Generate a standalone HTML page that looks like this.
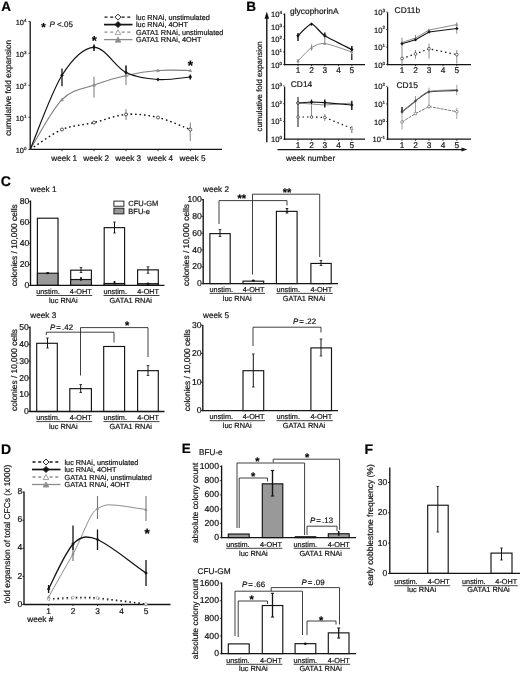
<!DOCTYPE html>
<html lang="en"><head><meta charset="utf-8"><title>Figure</title>
<style>html,body{margin:0;padding:0;background:#fff;}body{width:520px;height:673px;overflow:hidden;font-family:"Liberation Sans",Arial,sans-serif;}svg{display:block;text-rendering:geometricPrecision;filter:blur(0.3px);}text{stroke:#141414;stroke-width:0.2px;}</style>
</head><body>
<svg width="520" height="673" viewBox="0 0 520 673" font-family="'Liberation Sans', Arial, Helvetica, sans-serif">
<rect x="0" y="0" width="520" height="673" fill="#fff"/>
<text x="1.30" y="10.70" font-size="13.5" text-anchor="start" font-weight="bold" font-style="normal" fill="#000" >A</text>
<line x1="30.20" y1="21.50" x2="30.20" y2="150.00" stroke="#141414" stroke-width="1.3" />
<line x1="29.60" y1="149.40" x2="222.00" y2="149.40" stroke="#141414" stroke-width="1.3" />
<line x1="28.40" y1="149.40" x2="30.20" y2="149.40" stroke="#141414" stroke-width="0.8" />
<text x="26.40" y="152.70" font-size="7.4" text-anchor="end" fill="#141414">10<tspan font-size="4.44" dy="-2.96">0</tspan></text>
<line x1="28.40" y1="117.30" x2="30.20" y2="117.30" stroke="#141414" stroke-width="0.8" />
<text x="26.40" y="120.60" font-size="7.4" text-anchor="end" fill="#141414">10<tspan font-size="4.44" dy="-2.96">1</tspan></text>
<line x1="28.40" y1="85.20" x2="30.20" y2="85.20" stroke="#141414" stroke-width="0.8" />
<text x="26.40" y="88.50" font-size="7.4" text-anchor="end" fill="#141414">10<tspan font-size="4.44" dy="-2.96">2</tspan></text>
<line x1="28.40" y1="53.20" x2="30.20" y2="53.20" stroke="#141414" stroke-width="0.8" />
<text x="26.40" y="56.50" font-size="7.4" text-anchor="end" fill="#141414">10<tspan font-size="4.44" dy="-2.96">3</tspan></text>
<line x1="28.40" y1="21.60" x2="30.20" y2="21.60" stroke="#141414" stroke-width="0.8" />
<text x="26.40" y="24.90" font-size="7.4" text-anchor="end" fill="#141414">10<tspan font-size="4.44" dy="-2.96">4</tspan></text>
<line x1="62.00" y1="149.40" x2="62.00" y2="151.20" stroke="#141414" stroke-width="0.8" />
<text x="64.20" y="161.00" font-size="8.2" text-anchor="middle" font-weight="normal" font-style="normal" fill="#141414" >week 1</text>
<line x1="94.00" y1="149.40" x2="94.00" y2="151.20" stroke="#141414" stroke-width="0.8" />
<text x="96.20" y="161.00" font-size="8.2" text-anchor="middle" font-weight="normal" font-style="normal" fill="#141414" >week 2</text>
<line x1="126.00" y1="149.40" x2="126.00" y2="151.20" stroke="#141414" stroke-width="0.8" />
<text x="128.20" y="161.00" font-size="8.2" text-anchor="middle" font-weight="normal" font-style="normal" fill="#141414" >week 3</text>
<line x1="158.00" y1="149.40" x2="158.00" y2="151.20" stroke="#141414" stroke-width="0.8" />
<text x="160.20" y="161.00" font-size="8.2" text-anchor="middle" font-weight="normal" font-style="normal" fill="#141414" >week 4</text>
<line x1="190.30" y1="149.40" x2="190.30" y2="151.20" stroke="#141414" stroke-width="0.8" />
<text x="192.50" y="161.00" font-size="8.2" text-anchor="middle" font-weight="normal" font-style="normal" fill="#141414" >week 5</text>
<text x="11.00" y="87.80" font-size="8.35" text-anchor="middle" font-weight="normal" font-style="normal" fill="#141414" transform="rotate(-90 11.00 87.80)" >cumulative fold expansion</text>
<text x="41.13" y="30.56" font-size="11.5" font-weight="bold" fill="#000">*</text>
<text x="49.5" y="27" font-size="8" fill="#141414"><tspan font-style="italic">P</tspan> &lt;.05</text>
<line x1="104.50" y1="17.10" x2="132.50" y2="17.10" stroke="#141414" stroke-width="1.3" stroke-dasharray="3 2.7"/>
<polygon points="115.00,17.10 118.00,14.10 121.00,17.10 118.00,20.10" fill="#fff" stroke="#141414" stroke-width="0.9"/>
<text x="136.00" y="19.70" font-size="7.3" text-anchor="start" font-weight="normal" font-style="normal" fill="#141414" >luc RNAi, unstimulated</text>
<line x1="104.00" y1="24.60" x2="132.50" y2="24.60" stroke="#141414" stroke-width="1.7" />
<polygon points="115.00,24.60 118.00,21.60 121.00,24.60 118.00,27.60" fill="#141414" stroke="#141414" stroke-width="0.9"/>
<text x="136.00" y="27.20" font-size="7.3" text-anchor="start" font-weight="normal" font-style="normal" fill="#141414" >luc RNAi, 4OHT</text>
<line x1="104.50" y1="32.10" x2="132.50" y2="32.10" stroke="#8c8c8c" stroke-width="1.3" stroke-dasharray="3 2.7"/>
<polygon points="115.20,34.64 118.00,29.60 120.80,34.64" fill="#fff" stroke="#8c8c8c" stroke-width="0.8"/>
<text x="136.00" y="34.70" font-size="7.3" text-anchor="start" font-weight="normal" font-style="normal" fill="#141414" >GATA1 RNAi, unstimulated</text>
<line x1="104.00" y1="39.60" x2="132.50" y2="39.60" stroke="#8c8c8c" stroke-width="1.3" />
<polygon points="115.20,42.14 118.00,37.10 120.80,42.14" fill="#8c8c8c" stroke="#8c8c8c" stroke-width="0.8"/>
<text x="136.00" y="42.20" font-size="7.3" text-anchor="start" font-weight="normal" font-style="normal" fill="#141414" >GATA1 RNAi, 4OHT</text>
<path d="M30.20,149.40 C35.50,146.13 51.37,134.23 62.00,129.80 C72.63,125.37 83.33,125.40 94.00,122.80 C104.67,120.20 115.33,115.08 126.00,114.20 C136.67,113.32 147.28,114.87 158.00,117.50 C168.72,120.13 184.92,127.92 190.30,130.00" fill="none" stroke="#8c8c8c" stroke-width="1.2" stroke-dasharray="1.5 3"/>
<path d="M30.20,149.40 C35.50,146.08 51.37,133.98 62.00,129.50 C72.63,125.02 83.33,125.00 94.00,122.50 C104.67,120.00 115.33,115.33 126.00,114.50 C136.67,113.67 147.28,115.00 158.00,117.50 C168.72,120.00 184.92,127.50 190.30,129.50" fill="none" stroke="#141414" stroke-width="1.3" stroke-dasharray="1.5 3"/>
<line x1="126.00" y1="109.00" x2="126.00" y2="120.00" stroke="#8c8c8c" stroke-width="1.1" />
<line x1="190.30" y1="122.50" x2="190.30" y2="141.00" stroke="#8c8c8c" stroke-width="1.1" />
<circle cx="62.00" cy="129.50" r="1.5" fill="#fff" stroke="#141414" stroke-width="0.7"/>
<circle cx="94.00" cy="122.50" r="1.5" fill="#fff" stroke="#141414" stroke-width="0.7"/>
<circle cx="126.00" cy="114.50" r="1.5" fill="#fff" stroke="#141414" stroke-width="0.7"/>
<circle cx="158.00" cy="117.50" r="1.5" fill="#fff" stroke="#141414" stroke-width="0.7"/>
<circle cx="190.30" cy="129.50" r="1.5" fill="#fff" stroke="#141414" stroke-width="0.7"/>
<path d="M30.20,149.40 C35.50,141.10 51.37,110.33 62.00,99.60 C72.63,88.87 83.33,89.02 94.00,85.00 C104.67,80.98 115.33,77.92 126.00,75.50 C136.67,73.08 147.28,71.33 158.00,70.50 C168.72,69.67 184.92,70.50 190.30,70.50" fill="none" stroke="#7d7d7d" stroke-width="1.1" />
<line x1="94.00" y1="76.70" x2="94.00" y2="97.50" stroke="#8c8c8c" stroke-width="1.2" />
<line x1="126.00" y1="65.50" x2="126.00" y2="85.00" stroke="#8c8c8c" stroke-width="1.2" />
<polygon points="60.50,100.80 62.00,98.10 63.50,100.80" fill="#8c8c8c" stroke="#8c8c8c" stroke-width="0.5"/>
<polygon points="92.50,86.20 94.00,83.50 95.50,86.20" fill="#8c8c8c" stroke="#8c8c8c" stroke-width="0.5"/>
<polygon points="124.50,76.70 126.00,74.00 127.50,76.70" fill="#8c8c8c" stroke="#8c8c8c" stroke-width="0.5"/>
<polygon points="156.50,71.70 158.00,69.00 159.50,71.70" fill="#8c8c8c" stroke="#8c8c8c" stroke-width="0.5"/>
<polygon points="188.80,71.70 190.30,69.00 191.80,71.70" fill="#8c8c8c" stroke="#8c8c8c" stroke-width="0.5"/>
<path d="M30.20,149.40 C35.50,137.05 51.37,92.32 62.00,75.30 C72.63,58.28 83.33,47.77 94.00,47.30 C104.67,46.83 115.33,67.13 126.00,72.50 C136.67,77.87 147.28,78.75 158.00,79.50 C168.72,80.25 184.92,77.42 190.30,77.00" fill="none" stroke="#141414" stroke-width="1.2" />
<line x1="62.00" y1="68.40" x2="62.00" y2="86.20" stroke="#141414" stroke-width="1.3" />
<line x1="94.00" y1="44.50" x2="94.00" y2="51.00" stroke="#141414" stroke-width="1.5" />
<line x1="126.00" y1="65.50" x2="126.00" y2="74.00" stroke="#141414" stroke-width="1.3" />
<line x1="190.30" y1="74.50" x2="190.30" y2="79.50" stroke="#141414" stroke-width="1.5" />
<polygon points="60.30,75.30 62.00,73.60 63.70,75.30 62.00,77.00" fill="#141414" stroke="#141414" stroke-width="0.3"/>
<polygon points="92.30,47.30 94.00,45.60 95.70,47.30 94.00,49.00" fill="#141414" stroke="#141414" stroke-width="0.3"/>
<polygon points="124.30,72.50 126.00,70.80 127.70,72.50 126.00,74.20" fill="#141414" stroke="#141414" stroke-width="0.3"/>
<polygon points="156.30,79.50 158.00,77.80 159.70,79.50 158.00,81.20" fill="#141414" stroke="#141414" stroke-width="0.3"/>
<polygon points="188.60,77.00 190.30,75.30 192.00,77.00 190.30,78.70" fill="#141414" stroke="#141414" stroke-width="0.3"/>
<text x="91.66" y="45.03" font-size="13" font-weight="bold" fill="#000">*</text>
<text x="187.87" y="69.59" font-size="13.5" font-weight="bold" fill="#000">*</text>
<text x="246.20" y="10.80" font-size="13.5" text-anchor="start" font-weight="bold" font-style="normal" fill="#000" >B</text>
<text x="261.80" y="86.40" font-size="7.85" text-anchor="middle" font-weight="normal" font-style="normal" fill="#141414" transform="rotate(-90 261.80 86.40)" >cumulative fold expansion</text>
<line x1="266.80" y1="17.00" x2="266.80" y2="142.30" stroke="#141414" stroke-width="1.4" />
<polygon points="266.8,11.6 264.5,18.8 269.1,18.8" fill="#141414"/>
<line x1="277.50" y1="149.60" x2="463.00" y2="149.60" stroke="#141414" stroke-width="1.4" />
<polygon points="467.3,149.6 461.5,147.6 461.5,151.6" fill="#141414"/>
<text x="286.00" y="160.50" font-size="8.2" text-anchor="start" font-weight="normal" font-style="normal" fill="#141414" >week number</text>
<line x1="284.60" y1="13.60" x2="284.60" y2="65.20" stroke="#141414" stroke-width="1.3" />
<line x1="284.00" y1="64.60" x2="365.00" y2="64.60" stroke="#141414" stroke-width="1.3" />
<line x1="283.10" y1="64.60" x2="284.60" y2="64.60" stroke="#141414" stroke-width="0.7" />
<text x="282.00" y="67.60" font-size="7.6" text-anchor="end" fill="#141414">10<tspan font-size="4.56" dy="-3.04">0</tspan></text>
<line x1="283.10" y1="52.00" x2="284.60" y2="52.00" stroke="#141414" stroke-width="0.7" />
<text x="282.00" y="55.00" font-size="7.6" text-anchor="end" fill="#141414">10<tspan font-size="4.56" dy="-3.04">1</tspan></text>
<line x1="283.10" y1="39.40" x2="284.60" y2="39.40" stroke="#141414" stroke-width="0.7" />
<text x="282.00" y="42.40" font-size="7.6" text-anchor="end" fill="#141414">10<tspan font-size="4.56" dy="-3.04">2</tspan></text>
<line x1="283.10" y1="26.80" x2="284.60" y2="26.80" stroke="#141414" stroke-width="0.7" />
<text x="282.00" y="29.80" font-size="7.6" text-anchor="end" fill="#141414">10<tspan font-size="4.56" dy="-3.04">3</tspan></text>
<line x1="283.10" y1="14.20" x2="284.60" y2="14.20" stroke="#141414" stroke-width="0.7" />
<text x="282.00" y="17.20" font-size="7.6" text-anchor="end" fill="#141414">10<tspan font-size="4.56" dy="-3.04">4</tspan></text>
<line x1="298.00" y1="64.60" x2="298.00" y2="66.20" stroke="#141414" stroke-width="0.8" />
<text x="298.00" y="73.10" font-size="8.3" text-anchor="middle" font-weight="normal" font-style="normal" fill="#141414" >1</text>
<line x1="311.50" y1="64.60" x2="311.50" y2="66.20" stroke="#141414" stroke-width="0.8" />
<text x="311.50" y="73.10" font-size="8.3" text-anchor="middle" font-weight="normal" font-style="normal" fill="#141414" >2</text>
<line x1="324.80" y1="64.60" x2="324.80" y2="66.20" stroke="#141414" stroke-width="0.8" />
<text x="324.80" y="73.10" font-size="8.3" text-anchor="middle" font-weight="normal" font-style="normal" fill="#141414" >3</text>
<line x1="338.50" y1="64.60" x2="338.50" y2="66.20" stroke="#141414" stroke-width="0.8" />
<text x="338.50" y="73.10" font-size="8.3" text-anchor="middle" font-weight="normal" font-style="normal" fill="#141414" >4</text>
<line x1="351.80" y1="64.60" x2="351.80" y2="66.20" stroke="#141414" stroke-width="0.8" />
<text x="351.80" y="73.10" font-size="8.3" text-anchor="middle" font-weight="normal" font-style="normal" fill="#141414" >5</text>
<text x="290.10" y="13.80" font-size="8.4" text-anchor="start" font-weight="normal" font-style="normal" fill="#141414" >glycophorinA</text>
<path d="M298.00,61.00 C299.80,59.23 307.93,50.03 311.50,47.70 C315.07,45.37 319.43,42.93 324.80,43.50 C330.17,44.07 348.20,50.87 351.80,52.00" fill="none" stroke="#8c8c8c" stroke-width="1.0" />
<line x1="298.00" y1="59.00" x2="298.00" y2="63.50" stroke="#8c8c8c" stroke-width="1.1" />
<line x1="311.50" y1="44.40" x2="311.50" y2="50.50" stroke="#8c8c8c" stroke-width="1.1" />
<line x1="324.80" y1="36.70" x2="324.80" y2="44.40" stroke="#8c8c8c" stroke-width="1.1" />
<line x1="351.80" y1="46.00" x2="351.80" y2="60.00" stroke="#8c8c8c" stroke-width="1.1" />
<polygon points="296.70,62.04 298.00,59.70 299.30,62.04" fill="#8c8c8c" stroke="#8c8c8c" stroke-width="0.4"/>
<polygon points="310.20,48.74 311.50,46.40 312.80,48.74" fill="#8c8c8c" stroke="#8c8c8c" stroke-width="0.4"/>
<polygon points="323.50,44.54 324.80,42.20 326.10,44.54" fill="#8c8c8c" stroke="#8c8c8c" stroke-width="0.4"/>
<polygon points="350.50,53.04 351.80,50.70 353.10,53.04" fill="#8c8c8c" stroke="#8c8c8c" stroke-width="0.4"/>
<path d="M298.00,35.80 C299.57,34.45 308.37,24.20 311.50,24.20 C314.63,24.20 320.10,32.84 324.80,35.80 C329.50,38.76 348.65,47.99 351.80,49.60" fill="none" stroke="#141414" stroke-width="1.2" />
<line x1="298.00" y1="33.00" x2="298.00" y2="41.00" stroke="#141414" stroke-width="1.4" />
<line x1="324.80" y1="32.50" x2="324.80" y2="37.00" stroke="#141414" stroke-width="1.4" />
<line x1="351.80" y1="46.00" x2="351.80" y2="51.00" stroke="#141414" stroke-width="1.4" />
<line x1="351.80" y1="54.00" x2="351.80" y2="60.00" stroke="#141414" stroke-width="1.0" />
<polygon points="296.40,35.80 298.00,34.20 299.60,35.80 298.00,37.40" fill="#141414" stroke="#141414" stroke-width="0.3"/>
<polygon points="309.90,24.20 311.50,22.60 313.10,24.20 311.50,25.80" fill="#141414" stroke="#141414" stroke-width="0.3"/>
<polygon points="323.20,35.80 324.80,34.20 326.40,35.80 324.80,37.40" fill="#141414" stroke="#141414" stroke-width="0.3"/>
<polygon points="350.20,49.60 351.80,48.00 353.40,49.60 351.80,51.20" fill="#141414" stroke="#141414" stroke-width="0.3"/>
<line x1="284.60" y1="86.70" x2="284.60" y2="139.80" stroke="#141414" stroke-width="1.3" />
<line x1="284.00" y1="139.20" x2="365.00" y2="139.20" stroke="#141414" stroke-width="1.3" />
<line x1="283.10" y1="139.20" x2="284.60" y2="139.20" stroke="#141414" stroke-width="0.7" />
<text x="282.00" y="142.20" font-size="7.6" text-anchor="end" fill="#141414">10<tspan font-size="4.56" dy="-3.04">0</tspan></text>
<line x1="283.10" y1="121.43" x2="284.60" y2="121.43" stroke="#141414" stroke-width="0.7" />
<text x="282.00" y="124.43" font-size="7.6" text-anchor="end" fill="#141414">10<tspan font-size="4.56" dy="-3.04">1</tspan></text>
<line x1="283.10" y1="103.67" x2="284.60" y2="103.67" stroke="#141414" stroke-width="0.7" />
<text x="282.00" y="106.67" font-size="7.6" text-anchor="end" fill="#141414">10<tspan font-size="4.56" dy="-3.04">2</tspan></text>
<line x1="283.10" y1="85.90" x2="284.60" y2="85.90" stroke="#141414" stroke-width="0.7" />
<text x="282.00" y="88.90" font-size="7.6" text-anchor="end" fill="#141414">10<tspan font-size="4.56" dy="-3.04">3</tspan></text>
<line x1="298.00" y1="139.20" x2="298.00" y2="140.80" stroke="#141414" stroke-width="0.8" />
<text x="298.00" y="147.70" font-size="8.3" text-anchor="middle" font-weight="normal" font-style="normal" fill="#141414" >1</text>
<line x1="311.50" y1="139.20" x2="311.50" y2="140.80" stroke="#141414" stroke-width="0.8" />
<text x="311.50" y="147.70" font-size="8.3" text-anchor="middle" font-weight="normal" font-style="normal" fill="#141414" >2</text>
<line x1="324.80" y1="139.20" x2="324.80" y2="140.80" stroke="#141414" stroke-width="0.8" />
<text x="324.80" y="147.70" font-size="8.3" text-anchor="middle" font-weight="normal" font-style="normal" fill="#141414" >3</text>
<line x1="338.50" y1="139.20" x2="338.50" y2="140.80" stroke="#141414" stroke-width="0.8" />
<text x="338.50" y="147.70" font-size="8.3" text-anchor="middle" font-weight="normal" font-style="normal" fill="#141414" >4</text>
<line x1="351.80" y1="139.20" x2="351.80" y2="140.80" stroke="#141414" stroke-width="0.8" />
<text x="351.80" y="147.70" font-size="8.3" text-anchor="middle" font-weight="normal" font-style="normal" fill="#141414" >5</text>
<text x="290.80" y="87.10" font-size="8.4" text-anchor="start" font-weight="normal" font-style="normal" fill="#141414" >CD14</text>
<polyline points="298.00,117.00 311.50,117.00 324.80,117.40 351.80,128.40" fill="none" stroke="#141414" stroke-width="1.2" stroke-dasharray="1.5 3"/>
<line x1="298.00" y1="97.00" x2="298.00" y2="127.00" stroke="#141414" stroke-width="1.0" />
<line x1="311.50" y1="100.00" x2="311.50" y2="116.50" stroke="#8c8c8c" stroke-width="1.0" />
<line x1="324.80" y1="114.00" x2="324.80" y2="121.00" stroke="#8c8c8c" stroke-width="1.0" />
<line x1="351.80" y1="126.00" x2="351.80" y2="133.00" stroke="#8c8c8c" stroke-width="1.3" />
<circle cx="298.00" cy="117.00" r="1.3" fill="#fff" stroke="#141414" stroke-width="0.6"/>
<circle cx="311.50" cy="117.00" r="1.3" fill="#fff" stroke="#141414" stroke-width="0.6"/>
<circle cx="324.80" cy="117.40" r="1.3" fill="#fff" stroke="#141414" stroke-width="0.6"/>
<polygon points="350.40,129.52 351.80,127.00 353.20,129.52" fill="#fff" stroke="#8c8c8c" stroke-width="0.6"/>
<polyline points="298.00,103.00 311.50,104.00 324.80,105.00 351.80,103.00" fill="none" stroke="#8c8c8c" stroke-width="1.0" />
<polyline points="298.00,103.00 311.50,102.00 324.80,102.60 351.80,105.00" fill="none" stroke="#141414" stroke-width="1.15" />
<line x1="324.80" y1="99.50" x2="324.80" y2="107.50" stroke="#141414" stroke-width="1.4" />
<line x1="351.80" y1="100.70" x2="351.80" y2="110.00" stroke="#141414" stroke-width="1.4" />
<line x1="311.50" y1="99.50" x2="311.50" y2="104.00" stroke="#141414" stroke-width="1.2" />
<polygon points="296.50,103.00 298.00,101.50 299.50,103.00 298.00,104.50" fill="#141414" stroke="#141414" stroke-width="0.3"/>
<polygon points="310.00,102.00 311.50,100.50 313.00,102.00 311.50,103.50" fill="#141414" stroke="#141414" stroke-width="0.3"/>
<polygon points="323.30,102.60 324.80,101.10 326.30,102.60 324.80,104.10" fill="#141414" stroke="#141414" stroke-width="0.3"/>
<polygon points="350.30,105.00 351.80,103.50 353.30,105.00 351.80,106.50" fill="#141414" stroke="#141414" stroke-width="0.3"/>
<circle cx="298.00" cy="103.00" r="1.3" fill="#ccc" stroke="#141414" stroke-width="0.6"/>
<line x1="387.60" y1="12.40" x2="387.60" y2="65.20" stroke="#141414" stroke-width="1.3" />
<line x1="387.00" y1="64.60" x2="471.00" y2="64.60" stroke="#141414" stroke-width="1.3" />
<line x1="386.10" y1="64.60" x2="387.60" y2="64.60" stroke="#141414" stroke-width="0.7" />
<text x="385.00" y="67.60" font-size="7.6" text-anchor="end" fill="#141414">10<tspan font-size="4.56" dy="-3.04">0</tspan></text>
<line x1="386.10" y1="47.07" x2="387.60" y2="47.07" stroke="#141414" stroke-width="0.7" />
<text x="385.00" y="50.07" font-size="7.6" text-anchor="end" fill="#141414">10<tspan font-size="4.56" dy="-3.04">1</tspan></text>
<line x1="386.10" y1="29.53" x2="387.60" y2="29.53" stroke="#141414" stroke-width="0.7" />
<text x="385.00" y="32.53" font-size="7.6" text-anchor="end" fill="#141414">10<tspan font-size="4.56" dy="-3.04">2</tspan></text>
<line x1="386.10" y1="12.00" x2="387.60" y2="12.00" stroke="#141414" stroke-width="0.7" />
<text x="385.00" y="15.00" font-size="7.6" text-anchor="end" fill="#141414">10<tspan font-size="4.56" dy="-3.04">3</tspan></text>
<line x1="402.00" y1="64.60" x2="402.00" y2="66.20" stroke="#141414" stroke-width="0.8" />
<text x="402.00" y="73.10" font-size="8.3" text-anchor="middle" font-weight="normal" font-style="normal" fill="#141414" >1</text>
<line x1="415.50" y1="64.60" x2="415.50" y2="66.20" stroke="#141414" stroke-width="0.8" />
<text x="415.50" y="73.10" font-size="8.3" text-anchor="middle" font-weight="normal" font-style="normal" fill="#141414" >2</text>
<line x1="429.00" y1="64.60" x2="429.00" y2="66.20" stroke="#141414" stroke-width="0.8" />
<text x="429.00" y="73.10" font-size="8.3" text-anchor="middle" font-weight="normal" font-style="normal" fill="#141414" >3</text>
<line x1="443.00" y1="64.60" x2="443.00" y2="66.20" stroke="#141414" stroke-width="0.8" />
<text x="443.00" y="73.10" font-size="8.3" text-anchor="middle" font-weight="normal" font-style="normal" fill="#141414" >4</text>
<line x1="456.80" y1="64.60" x2="456.80" y2="66.20" stroke="#141414" stroke-width="0.8" />
<text x="456.80" y="73.10" font-size="8.3" text-anchor="middle" font-weight="normal" font-style="normal" fill="#141414" >5</text>
<text x="394.60" y="13.20" font-size="8.4" text-anchor="start" font-weight="normal" font-style="normal" fill="#141414" >CD11b</text>
<line x1="402.00" y1="37.70" x2="402.00" y2="64.60" stroke="#8c8c8c" stroke-width="1.0" />
<line x1="415.50" y1="50.00" x2="415.50" y2="58.80" stroke="#8c8c8c" stroke-width="1.0" />
<line x1="429.00" y1="43.50" x2="429.00" y2="58.50" stroke="#8c8c8c" stroke-width="1.0" />
<line x1="456.80" y1="50.00" x2="456.80" y2="63.60" stroke="#8c8c8c" stroke-width="1.0" />
<polyline points="402.00,58.50 415.50,54.00 429.00,48.80 456.80,54.60" fill="none" stroke="#141414" stroke-width="1.2" stroke-dasharray="1.5 3"/>
<circle cx="402.00" cy="58.50" r="1.4" fill="#fff" stroke="#141414" stroke-width="0.6"/>
<circle cx="415.50" cy="54.00" r="1.4" fill="#fff" stroke="#141414" stroke-width="0.6"/>
<circle cx="429.00" cy="48.80" r="1.4" fill="#fff" stroke="#141414" stroke-width="0.6"/>
<circle cx="456.80" cy="54.60" r="1.4" fill="#fff" stroke="#141414" stroke-width="0.6"/>
<line x1="415.50" y1="34.80" x2="415.50" y2="40.60" stroke="#8c8c8c" stroke-width="1.0" />
<line x1="456.80" y1="22.30" x2="456.80" y2="33.80" stroke="#8c8c8c" stroke-width="1.0" />
<polyline points="402.00,42.50 415.50,38.00 429.00,30.00 456.80,24.60" fill="none" stroke="#8c8c8c" stroke-width="1.0" />
<polyline points="402.00,43.80 415.50,39.80 429.00,32.00 456.80,28.50" fill="none" stroke="#141414" stroke-width="1.15" />
<polygon points="400.80,43.46 402.00,41.30 403.20,43.46" fill="#8c8c8c" stroke="#8c8c8c" stroke-width="0.4"/>
<polygon points="414.30,38.96 415.50,36.80 416.70,38.96" fill="#8c8c8c" stroke="#8c8c8c" stroke-width="0.4"/>
<polygon points="427.80,30.96 429.00,28.80 430.20,30.96" fill="#8c8c8c" stroke="#8c8c8c" stroke-width="0.4"/>
<polygon points="455.60,25.56 456.80,23.40 458.00,25.56" fill="#8c8c8c" stroke="#8c8c8c" stroke-width="0.4"/>
<polygon points="400.50,43.80 402.00,42.30 403.50,43.80 402.00,45.30" fill="#141414" stroke="#141414" stroke-width="0.3"/>
<polygon points="414.00,39.80 415.50,38.30 417.00,39.80 415.50,41.30" fill="#141414" stroke="#141414" stroke-width="0.3"/>
<polygon points="427.50,32.00 429.00,30.50 430.50,32.00 429.00,33.50" fill="#141414" stroke="#141414" stroke-width="0.3"/>
<polygon points="455.30,28.50 456.80,27.00 458.30,28.50 456.80,30.00" fill="#141414" stroke="#141414" stroke-width="0.3"/>
<line x1="387.60" y1="87.10" x2="387.60" y2="139.80" stroke="#141414" stroke-width="1.3" />
<line x1="387.00" y1="139.20" x2="471.00" y2="139.20" stroke="#141414" stroke-width="1.3" />
<line x1="386.10" y1="139.20" x2="387.60" y2="139.20" stroke="#141414" stroke-width="0.7" />
<text x="385.00" y="142.20" font-size="7.6" text-anchor="end" fill="#141414">10<tspan font-size="4.56" dy="-3.04">-1</tspan></text>
<line x1="386.10" y1="121.57" x2="387.60" y2="121.57" stroke="#141414" stroke-width="0.7" />
<text x="385.00" y="124.57" font-size="7.6" text-anchor="end" fill="#141414">10<tspan font-size="4.56" dy="-3.04">0</tspan></text>
<line x1="386.10" y1="103.93" x2="387.60" y2="103.93" stroke="#141414" stroke-width="0.7" />
<text x="385.00" y="106.93" font-size="7.6" text-anchor="end" fill="#141414">10<tspan font-size="4.56" dy="-3.04">1</tspan></text>
<line x1="386.10" y1="86.30" x2="387.60" y2="86.30" stroke="#141414" stroke-width="0.7" />
<text x="385.00" y="89.30" font-size="7.6" text-anchor="end" fill="#141414">10<tspan font-size="4.56" dy="-3.04">2</tspan></text>
<line x1="402.00" y1="139.20" x2="402.00" y2="140.80" stroke="#141414" stroke-width="0.8" />
<text x="402.00" y="147.70" font-size="8.3" text-anchor="middle" font-weight="normal" font-style="normal" fill="#141414" >1</text>
<line x1="415.50" y1="139.20" x2="415.50" y2="140.80" stroke="#141414" stroke-width="0.8" />
<text x="415.50" y="147.70" font-size="8.3" text-anchor="middle" font-weight="normal" font-style="normal" fill="#141414" >2</text>
<line x1="429.00" y1="139.20" x2="429.00" y2="140.80" stroke="#141414" stroke-width="0.8" />
<text x="429.00" y="147.70" font-size="8.3" text-anchor="middle" font-weight="normal" font-style="normal" fill="#141414" >3</text>
<line x1="443.00" y1="139.20" x2="443.00" y2="140.80" stroke="#141414" stroke-width="0.8" />
<text x="443.00" y="147.70" font-size="8.3" text-anchor="middle" font-weight="normal" font-style="normal" fill="#141414" >4</text>
<line x1="456.80" y1="139.20" x2="456.80" y2="140.80" stroke="#141414" stroke-width="0.8" />
<text x="456.80" y="147.70" font-size="8.3" text-anchor="middle" font-weight="normal" font-style="normal" fill="#141414" >5</text>
<text x="396.40" y="87.60" font-size="8.4" text-anchor="start" font-weight="normal" font-style="normal" fill="#141414" >CD15</text>
<line x1="402.00" y1="107.00" x2="402.00" y2="129.50" stroke="#999" stroke-width="0.9" />
<line x1="415.50" y1="96.00" x2="415.50" y2="114.50" stroke="#999" stroke-width="0.9" />
<line x1="429.00" y1="87.60" x2="429.00" y2="108.80" stroke="#999" stroke-width="0.9" />
<line x1="456.80" y1="84.70" x2="456.80" y2="95.30" stroke="#999" stroke-width="0.9" />
<line x1="456.80" y1="107.80" x2="456.80" y2="119.00" stroke="#999" stroke-width="0.9" />
<polyline points="402.00,122.00 415.50,113.60 429.00,106.50 456.80,111.70" fill="none" stroke="#6a6a6a" stroke-width="0.9" stroke-dasharray="3 0.9"/>
<circle cx="402.00" cy="122.00" r="1.3" fill="#fff" stroke="#555" stroke-width="0.6"/>
<circle cx="415.50" cy="113.60" r="1.3" fill="#fff" stroke="#555" stroke-width="0.6"/>
<circle cx="429.00" cy="106.50" r="1.3" fill="#fff" stroke="#555" stroke-width="0.6"/>
<circle cx="456.80" cy="111.70" r="1.3" fill="#fff" stroke="#555" stroke-width="0.6"/>
<path d="M402.00,112.00 C403.35,110.89 412.80,102.92 415.50,100.90 C418.20,98.88 424.87,92.84 429.00,91.80 C433.13,90.76 454.02,90.63 456.80,90.50" fill="none" stroke="#3a3a3a" stroke-width="1.2" />
<path d="M402.00,112.50 C403.35,111.32 412.80,102.80 415.50,100.70 C418.20,98.60 424.87,92.62 429.00,91.50 C433.13,90.38 454.02,89.70 456.80,89.50" fill="none" stroke="#8c8c8c" stroke-width="0.8" />
<line x1="402.00" y1="107.00" x2="402.00" y2="112.00" stroke="#141414" stroke-width="1.3" />
<polygon points="400.60,112.00 402.00,110.60 403.40,112.00 402.00,113.40" fill="#444" stroke="#444" stroke-width="0.3"/>
<polygon points="414.10,100.90 415.50,99.50 416.90,100.90 415.50,102.30" fill="#444" stroke="#444" stroke-width="0.3"/>
<polygon points="427.60,91.80 429.00,90.40 430.40,91.80 429.00,93.20" fill="#444" stroke="#444" stroke-width="0.3"/>
<polygon points="455.40,90.50 456.80,89.10 458.20,90.50 456.80,91.90" fill="#444" stroke="#444" stroke-width="0.3"/>
<text x="0.70" y="186.00" font-size="14" text-anchor="start" font-weight="bold" font-style="normal" fill="#000" >C</text>
<text x="30.50" y="191.60" font-size="8.2" text-anchor="start" font-weight="normal" font-style="normal" fill="#141414" >week 1</text>
<rect x="37.40" y="218.20" width="20.60" height="67.20" fill="#fff" stroke="#141414" stroke-width="1.15"/>
<rect x="37.40" y="273.22" width="20.60" height="12.18" fill="#999" stroke="#141414" stroke-width="1.15"/>
<rect x="70.70" y="270.17" width="20.70" height="15.23" fill="#fff" stroke="#141414" stroke-width="1.15"/>
<rect x="70.70" y="279.52" width="20.70" height="5.88" fill="#999" stroke="#141414" stroke-width="1.15"/>
<rect x="104.20" y="227.65" width="20.40" height="57.75" fill="#fff" stroke="#141414" stroke-width="1.15"/>
<rect x="104.20" y="283.51" width="20.40" height="1.89" fill="#999" stroke="#141414" stroke-width="1.15"/>
<rect x="137.60" y="269.86" width="20.70" height="15.54" fill="#fff" stroke="#141414" stroke-width="1.15"/>
<rect x="137.60" y="283.72" width="20.70" height="1.68" fill="#999" stroke="#141414" stroke-width="1.15"/>
<ellipse cx="47.70" cy="273.10" rx="1.6" ry="1.2" fill="#141414"/>
<line x1="81.00" y1="267.50" x2="81.00" y2="272.50" stroke="#141414" stroke-width="1.0" />
<line x1="79.70" y1="267.50" x2="82.30" y2="267.50" stroke="#141414" stroke-width="0.8" />
<line x1="79.70" y1="272.50" x2="82.30" y2="272.50" stroke="#141414" stroke-width="0.8" />
<line x1="81.00" y1="277.30" x2="81.00" y2="280.80" stroke="#141414" stroke-width="1.8" />
<line x1="114.50" y1="222.00" x2="114.50" y2="233.00" stroke="#141414" stroke-width="1.0" />
<line x1="113.20" y1="222.00" x2="115.80" y2="222.00" stroke="#141414" stroke-width="0.8" />
<line x1="113.20" y1="233.00" x2="115.80" y2="233.00" stroke="#141414" stroke-width="0.8" />
<line x1="114.50" y1="281.00" x2="114.50" y2="284.50" stroke="#141414" stroke-width="1.8" />
<line x1="148.00" y1="266.80" x2="148.00" y2="273.30" stroke="#141414" stroke-width="1.0" />
<line x1="146.60" y1="266.80" x2="149.40" y2="266.80" stroke="#141414" stroke-width="0.8" />
<line x1="146.60" y1="273.30" x2="149.40" y2="273.30" stroke="#141414" stroke-width="0.8" />
<ellipse cx="148.00" cy="283.80" rx="1.5" ry="1.2" fill="#141414"/>
<line x1="30.50" y1="200.50" x2="30.50" y2="286.00" stroke="#141414" stroke-width="1.35" />
<line x1="29.90" y1="285.40" x2="164.50" y2="285.40" stroke="#141414" stroke-width="1.35" />
<line x1="28.70" y1="285.40" x2="30.50" y2="285.40" stroke="#141414" stroke-width="0.8" />
<text x="29.20" y="288.00" font-size="8.6" text-anchor="end" font-weight="normal" font-style="normal" fill="#141414" >0</text>
<line x1="28.70" y1="264.40" x2="30.50" y2="264.40" stroke="#141414" stroke-width="0.8" />
<text x="29.20" y="267.00" font-size="8.6" text-anchor="end" font-weight="normal" font-style="normal" fill="#141414" >20</text>
<line x1="28.70" y1="243.40" x2="30.50" y2="243.40" stroke="#141414" stroke-width="0.8" />
<text x="29.20" y="246.00" font-size="8.6" text-anchor="end" font-weight="normal" font-style="normal" fill="#141414" >40</text>
<line x1="28.70" y1="222.40" x2="30.50" y2="222.40" stroke="#141414" stroke-width="0.8" />
<text x="29.20" y="225.00" font-size="8.6" text-anchor="end" font-weight="normal" font-style="normal" fill="#141414" >60</text>
<line x1="28.70" y1="201.40" x2="30.50" y2="201.40" stroke="#141414" stroke-width="0.8" />
<text x="29.20" y="204.00" font-size="8.6" text-anchor="end" font-weight="normal" font-style="normal" fill="#141414" >80</text>
<text x="17.30" y="245.30" font-size="8.33" text-anchor="middle" font-weight="normal" font-style="normal" fill="#141414" transform="rotate(-90 17.30 245.30)" >colonies / 10,000 cells</text>
<text x="48.00" y="294.10" font-size="7.3" text-anchor="middle" font-weight="normal" font-style="normal" fill="#141414" >unstim.</text>
<text x="80.80" y="294.10" font-size="7.3" text-anchor="middle" font-weight="normal" font-style="normal" fill="#141414" >4-OHT</text>
<text x="115.20" y="294.10" font-size="7.3" text-anchor="middle" font-weight="normal" font-style="normal" fill="#141414" >unstim.</text>
<text x="148.10" y="294.10" font-size="7.3" text-anchor="middle" font-weight="normal" font-style="normal" fill="#141414" >4-OHT</text>
<line x1="36.30" y1="295.50" x2="92.20" y2="295.50" stroke="#141414" stroke-width="0.8" />
<line x1="103.50" y1="295.50" x2="159.50" y2="295.50" stroke="#141414" stroke-width="0.8" />
<text x="63.30" y="302.80" font-size="7.3999999999999995" text-anchor="middle" font-weight="normal" font-style="normal" fill="#141414" >luc RNAi</text>
<text x="130.80" y="302.80" font-size="7.3999999999999995" text-anchor="middle" font-weight="normal" font-style="normal" fill="#141414" >GATA1 RNAi</text>
<rect x="113.90" y="201.10" width="10.00" height="5.10" fill="#fff" stroke="#141414" stroke-width="0.9"/>
<rect x="113.90" y="208.20" width="10.00" height="5.70" fill="#999" stroke="#141414" stroke-width="0.9"/>
<text x="128.30" y="206.00" font-size="7.5" text-anchor="start" font-weight="normal" font-style="normal" fill="#141414" >CFU-GM</text>
<text x="128.30" y="213.80" font-size="7.5" text-anchor="start" font-weight="normal" font-style="normal" fill="#141414" >BFU-e</text>
<text x="203.00" y="191.60" font-size="8.2" text-anchor="start" font-weight="normal" font-style="normal" fill="#141414" >week 2</text>
<rect x="209.90" y="233.62" width="20.30" height="49.98" fill="#fff" stroke="#141414" stroke-width="1.15"/>
<rect x="243.00" y="281.16" width="20.70" height="2.44" fill="#fff" stroke="#141414" stroke-width="1.15"/>
<rect x="276.40" y="211.36" width="20.70" height="72.24" fill="#fff" stroke="#141414" stroke-width="1.15"/>
<rect x="310.90" y="263.44" width="20.30" height="20.16" fill="#fff" stroke="#141414" stroke-width="1.15"/>
<line x1="220.00" y1="229.50" x2="220.00" y2="236.50" stroke="#141414" stroke-width="1.0" />
<line x1="218.70" y1="229.50" x2="221.30" y2="229.50" stroke="#141414" stroke-width="0.8" />
<line x1="218.70" y1="236.50" x2="221.30" y2="236.50" stroke="#141414" stroke-width="0.8" />
<ellipse cx="253.30" cy="280.60" rx="1.5" ry="1.2" fill="#141414"/>
<line x1="287.00" y1="208.50" x2="287.00" y2="213.00" stroke="#141414" stroke-width="1.2" />
<line x1="285.70" y1="208.50" x2="288.30" y2="208.50" stroke="#141414" stroke-width="0.96" />
<line x1="285.70" y1="213.00" x2="288.30" y2="213.00" stroke="#141414" stroke-width="0.96" />
<line x1="321.00" y1="260.50" x2="321.00" y2="265.50" stroke="#141414" stroke-width="1.0" />
<line x1="319.70" y1="260.50" x2="322.30" y2="260.50" stroke="#141414" stroke-width="0.8" />
<line x1="319.70" y1="265.50" x2="322.30" y2="265.50" stroke="#141414" stroke-width="0.8" />
<line x1="203.20" y1="199.00" x2="203.20" y2="284.20" stroke="#141414" stroke-width="1.35" />
<line x1="202.60" y1="283.60" x2="338.00" y2="283.60" stroke="#141414" stroke-width="1.35" />
<line x1="201.40" y1="283.60" x2="203.20" y2="283.60" stroke="#141414" stroke-width="0.8" />
<text x="201.90" y="286.20" font-size="8.6" text-anchor="end" font-weight="normal" font-style="normal" fill="#141414" >0</text>
<line x1="201.40" y1="266.80" x2="203.20" y2="266.80" stroke="#141414" stroke-width="0.8" />
<text x="201.90" y="269.40" font-size="8.6" text-anchor="end" font-weight="normal" font-style="normal" fill="#141414" >20</text>
<line x1="201.40" y1="250.00" x2="203.20" y2="250.00" stroke="#141414" stroke-width="0.8" />
<text x="201.90" y="252.60" font-size="8.6" text-anchor="end" font-weight="normal" font-style="normal" fill="#141414" >40</text>
<line x1="201.40" y1="233.20" x2="203.20" y2="233.20" stroke="#141414" stroke-width="0.8" />
<text x="201.90" y="235.80" font-size="8.6" text-anchor="end" font-weight="normal" font-style="normal" fill="#141414" >60</text>
<line x1="201.40" y1="216.40" x2="203.20" y2="216.40" stroke="#141414" stroke-width="0.8" />
<text x="201.90" y="219.00" font-size="8.6" text-anchor="end" font-weight="normal" font-style="normal" fill="#141414" >80</text>
<line x1="201.40" y1="199.60" x2="203.20" y2="199.60" stroke="#141414" stroke-width="0.8" />
<text x="201.90" y="202.20" font-size="8.6" text-anchor="end" font-weight="normal" font-style="normal" fill="#141414" >100</text>
<text x="189.30" y="245.00" font-size="8.33" text-anchor="middle" font-weight="normal" font-style="normal" fill="#141414" transform="rotate(-90 189.30 245.00)" >colonies / 10,000 cells</text>
<text x="221.30" y="291.90" font-size="7.3" text-anchor="middle" font-weight="normal" font-style="normal" fill="#141414" >unstim.</text>
<text x="253.60" y="291.90" font-size="7.3" text-anchor="middle" font-weight="normal" font-style="normal" fill="#141414" >4-OHT</text>
<text x="288.20" y="291.90" font-size="7.3" text-anchor="middle" font-weight="normal" font-style="normal" fill="#141414" >unstim.</text>
<text x="321.40" y="291.90" font-size="7.3" text-anchor="middle" font-weight="normal" font-style="normal" fill="#141414" >4-OHT</text>
<line x1="209.60" y1="293.40" x2="265.00" y2="293.40" stroke="#141414" stroke-width="0.8" />
<line x1="276.50" y1="293.40" x2="332.80" y2="293.40" stroke="#141414" stroke-width="0.8" />
<text x="237.20" y="300.50" font-size="7.3999999999999995" text-anchor="middle" font-weight="normal" font-style="normal" fill="#141414" >luc RNAi</text>
<text x="304.00" y="300.50" font-size="7.3999999999999995" text-anchor="middle" font-weight="normal" font-style="normal" fill="#141414" >GATA1 RNAi</text>
<polyline points="219.00,224.00 219.00,200.60 287.00,200.60 287.00,205.50" fill="none" stroke="#2a2a2a" stroke-width="0.9" />
<polyline points="252.50,274.50 252.50,194.20 319.70,194.20 319.70,257.00" fill="none" stroke="#2a2a2a" stroke-width="0.9" />
<text x="237.48" y="201.71" font-size="11" font-weight="bold" fill="#000">**</text>
<text x="282.78" y="196.21" font-size="11" font-weight="bold" fill="#000">**</text>
<text x="30.30" y="318.00" font-size="8.2" text-anchor="start" font-weight="normal" font-style="normal" fill="#141414" >week 3</text>
<rect x="36.70" y="343.29" width="20.60" height="68.21" fill="#fff" stroke="#141414" stroke-width="1.15"/>
<rect x="69.80" y="388.65" width="21.60" height="22.85" fill="#fff" stroke="#141414" stroke-width="1.15"/>
<rect x="103.70" y="346.48" width="20.90" height="65.02" fill="#fff" stroke="#141414" stroke-width="1.15"/>
<rect x="137.60" y="370.68" width="20.70" height="40.82" fill="#fff" stroke="#141414" stroke-width="1.15"/>
<line x1="47.50" y1="338.00" x2="47.50" y2="348.00" stroke="#141414" stroke-width="1.0" />
<line x1="46.20" y1="338.00" x2="48.80" y2="338.00" stroke="#141414" stroke-width="0.8" />
<line x1="46.20" y1="348.00" x2="48.80" y2="348.00" stroke="#141414" stroke-width="0.8" />
<line x1="80.70" y1="384.50" x2="80.70" y2="392.50" stroke="#141414" stroke-width="1.0" />
<line x1="79.40" y1="384.50" x2="82.00" y2="384.50" stroke="#141414" stroke-width="0.8" />
<line x1="79.40" y1="392.50" x2="82.00" y2="392.50" stroke="#141414" stroke-width="0.8" />
<line x1="148.00" y1="365.50" x2="148.00" y2="375.50" stroke="#141414" stroke-width="1.0" />
<line x1="146.70" y1="365.50" x2="149.30" y2="365.50" stroke="#141414" stroke-width="0.8" />
<line x1="146.70" y1="375.50" x2="149.30" y2="375.50" stroke="#141414" stroke-width="0.8" />
<line x1="30.00" y1="326.50" x2="30.00" y2="412.10" stroke="#141414" stroke-width="1.35" />
<line x1="29.40" y1="411.50" x2="164.50" y2="411.50" stroke="#141414" stroke-width="1.35" />
<line x1="28.20" y1="411.50" x2="30.00" y2="411.50" stroke="#141414" stroke-width="0.8" />
<text x="28.70" y="414.10" font-size="8.6" text-anchor="end" font-weight="normal" font-style="normal" fill="#141414" >0</text>
<line x1="28.20" y1="394.70" x2="30.00" y2="394.70" stroke="#141414" stroke-width="0.8" />
<text x="28.70" y="397.30" font-size="8.6" text-anchor="end" font-weight="normal" font-style="normal" fill="#141414" >10</text>
<line x1="28.20" y1="377.90" x2="30.00" y2="377.90" stroke="#141414" stroke-width="0.8" />
<text x="28.70" y="380.50" font-size="8.6" text-anchor="end" font-weight="normal" font-style="normal" fill="#141414" >20</text>
<line x1="28.20" y1="361.10" x2="30.00" y2="361.10" stroke="#141414" stroke-width="0.8" />
<text x="28.70" y="363.70" font-size="8.6" text-anchor="end" font-weight="normal" font-style="normal" fill="#141414" >30</text>
<line x1="28.20" y1="344.30" x2="30.00" y2="344.30" stroke="#141414" stroke-width="0.8" />
<text x="28.70" y="346.90" font-size="8.6" text-anchor="end" font-weight="normal" font-style="normal" fill="#141414" >40</text>
<line x1="28.20" y1="327.50" x2="30.00" y2="327.50" stroke="#141414" stroke-width="0.8" />
<text x="28.70" y="330.10" font-size="8.6" text-anchor="end" font-weight="normal" font-style="normal" fill="#141414" >50</text>
<text x="17.30" y="370.00" font-size="8.33" text-anchor="middle" font-weight="normal" font-style="normal" fill="#141414" transform="rotate(-90 17.30 370.00)" >colonies / 10,000 cells</text>
<text x="48.00" y="420.20" font-size="7.3" text-anchor="middle" font-weight="normal" font-style="normal" fill="#141414" >unstim.</text>
<text x="80.80" y="420.20" font-size="7.3" text-anchor="middle" font-weight="normal" font-style="normal" fill="#141414" >4-OHT</text>
<text x="115.20" y="420.20" font-size="7.3" text-anchor="middle" font-weight="normal" font-style="normal" fill="#141414" >unstim.</text>
<text x="148.10" y="420.20" font-size="7.3" text-anchor="middle" font-weight="normal" font-style="normal" fill="#141414" >4-OHT</text>
<line x1="36.30" y1="421.60" x2="92.20" y2="421.60" stroke="#141414" stroke-width="0.8" />
<line x1="103.50" y1="421.60" x2="159.50" y2="421.60" stroke="#141414" stroke-width="0.8" />
<text x="63.30" y="428.90" font-size="7.3999999999999995" text-anchor="middle" font-weight="normal" font-style="normal" fill="#141414" >luc RNAi</text>
<text x="130.80" y="428.90" font-size="7.3999999999999995" text-anchor="middle" font-weight="normal" font-style="normal" fill="#141414" >GATA1 RNAi</text>
<polyline points="46.30,335.00 46.30,332.20 114.00,332.20 114.00,342.50" fill="none" stroke="#2a2a2a" stroke-width="0.9" />
<polyline points="80.50,375.50 80.50,327.60 148.00,327.60 148.00,357.00" fill="none" stroke="#2a2a2a" stroke-width="0.9" />
<text x="50.00" y="330.00" font-size="7.9" fill="#141414" word-spacing="-1.1"><tspan font-style="italic">P</tspan> = .42</text>
<text x="124.92" y="329.11" font-size="11" font-weight="bold" fill="#000">*</text>
<text x="203.00" y="318.00" font-size="8.2" text-anchor="start" font-weight="normal" font-style="normal" fill="#141414" >week 5</text>
<rect x="243.00" y="370.70" width="20.70" height="39.90" fill="#fff" stroke="#141414" stroke-width="1.15"/>
<rect x="310.90" y="347.90" width="20.60" height="62.70" fill="#fff" stroke="#141414" stroke-width="1.15"/>
<line x1="253.30" y1="354.00" x2="253.30" y2="387.00" stroke="#141414" stroke-width="1.0" />
<line x1="252.00" y1="354.00" x2="254.60" y2="354.00" stroke="#141414" stroke-width="0.8" />
<line x1="252.00" y1="387.00" x2="254.60" y2="387.00" stroke="#141414" stroke-width="0.8" />
<line x1="321.00" y1="339.00" x2="321.00" y2="356.00" stroke="#141414" stroke-width="1.0" />
<line x1="319.70" y1="339.00" x2="322.30" y2="339.00" stroke="#141414" stroke-width="0.8" />
<line x1="319.70" y1="356.00" x2="322.30" y2="356.00" stroke="#141414" stroke-width="0.8" />
<line x1="202.80" y1="325.00" x2="202.80" y2="411.20" stroke="#141414" stroke-width="1.35" />
<line x1="202.20" y1="410.60" x2="338.00" y2="410.60" stroke="#141414" stroke-width="1.35" />
<line x1="201.00" y1="410.60" x2="202.80" y2="410.60" stroke="#141414" stroke-width="0.8" />
<text x="201.50" y="413.20" font-size="8.6" text-anchor="end" font-weight="normal" font-style="normal" fill="#141414" >0</text>
<line x1="201.00" y1="382.10" x2="202.80" y2="382.10" stroke="#141414" stroke-width="0.8" />
<text x="201.50" y="384.70" font-size="8.6" text-anchor="end" font-weight="normal" font-style="normal" fill="#141414" >10</text>
<line x1="201.00" y1="353.60" x2="202.80" y2="353.60" stroke="#141414" stroke-width="0.8" />
<text x="201.50" y="356.20" font-size="8.6" text-anchor="end" font-weight="normal" font-style="normal" fill="#141414" >20</text>
<line x1="201.00" y1="325.10" x2="202.80" y2="325.10" stroke="#141414" stroke-width="0.8" />
<text x="201.50" y="327.70" font-size="8.6" text-anchor="end" font-weight="normal" font-style="normal" fill="#141414" >30</text>
<text x="190.00" y="370.30" font-size="8.33" text-anchor="middle" font-weight="normal" font-style="normal" fill="#141414" transform="rotate(-90 190.00 370.30)" >colonies / 10,000 cells</text>
<text x="221.30" y="419.30" font-size="7.3" text-anchor="middle" font-weight="normal" font-style="normal" fill="#141414" >unstim.</text>
<text x="253.60" y="419.30" font-size="7.3" text-anchor="middle" font-weight="normal" font-style="normal" fill="#141414" >4-OHT</text>
<text x="288.20" y="419.30" font-size="7.3" text-anchor="middle" font-weight="normal" font-style="normal" fill="#141414" >unstim.</text>
<text x="321.40" y="419.30" font-size="7.3" text-anchor="middle" font-weight="normal" font-style="normal" fill="#141414" >4-OHT</text>
<line x1="209.60" y1="420.70" x2="265.00" y2="420.70" stroke="#141414" stroke-width="0.8" />
<line x1="276.50" y1="420.70" x2="332.80" y2="420.70" stroke="#141414" stroke-width="0.8" />
<text x="237.20" y="428.00" font-size="7.3999999999999995" text-anchor="middle" font-weight="normal" font-style="normal" fill="#141414" >luc RNAi</text>
<text x="304.00" y="428.00" font-size="7.3999999999999995" text-anchor="middle" font-weight="normal" font-style="normal" fill="#141414" >GATA1 RNAi</text>
<polyline points="253.00,346.00 253.00,327.20 321.00,327.20 321.00,332.50" fill="none" stroke="#2a2a2a" stroke-width="0.9" />
<text x="293.00" y="324.20" font-size="7.9" fill="#141414" word-spacing="-1.1"><tspan font-style="italic">P</tspan> = .22</text>
<text x="0.90" y="453.60" font-size="14" text-anchor="start" font-weight="bold" font-style="normal" fill="#000" >D</text>
<line x1="32.50" y1="462.00" x2="60.50" y2="462.00" stroke="#141414" stroke-width="1.3" stroke-dasharray="3 2.7"/>
<polygon points="43.00,462.00 46.00,459.00 49.00,462.00 46.00,465.00" fill="#fff" stroke="#141414" stroke-width="0.9"/>
<text x="64.50" y="464.60" font-size="7.3" text-anchor="start" font-weight="normal" font-style="normal" fill="#141414" >luc RNAi, unstimulated</text>
<line x1="32.00" y1="469.50" x2="60.50" y2="469.50" stroke="#141414" stroke-width="1.7" />
<polygon points="43.00,469.50 46.00,466.50 49.00,469.50 46.00,472.50" fill="#141414" stroke="#141414" stroke-width="0.9"/>
<text x="64.50" y="472.10" font-size="7.3" text-anchor="start" font-weight="normal" font-style="normal" fill="#141414" >luc RNAi, 4OHT</text>
<line x1="32.50" y1="477.00" x2="60.50" y2="477.00" stroke="#8c8c8c" stroke-width="1.3" stroke-dasharray="3 2.7"/>
<polygon points="43.20,479.54 46.00,474.50 48.80,479.54" fill="#fff" stroke="#8c8c8c" stroke-width="0.8"/>
<text x="64.50" y="479.60" font-size="7.3" text-anchor="start" font-weight="normal" font-style="normal" fill="#141414" >GATA1 RNAi, unstimulated</text>
<line x1="32.00" y1="484.50" x2="60.50" y2="484.50" stroke="#8c8c8c" stroke-width="1.3" />
<polygon points="43.20,487.04 46.00,482.00 48.80,487.04" fill="#8c8c8c" stroke="#8c8c8c" stroke-width="0.8"/>
<text x="64.50" y="487.10" font-size="7.3" text-anchor="start" font-weight="normal" font-style="normal" fill="#141414" >GATA1 RNAi, 4OHT</text>
<line x1="24.00" y1="491.50" x2="24.00" y2="605.10" stroke="#141414" stroke-width="1.35" />
<line x1="23.40" y1="604.50" x2="170.50" y2="604.50" stroke="#141414" stroke-width="1.35" />
<line x1="22.20" y1="604.50" x2="24.00" y2="604.50" stroke="#141414" stroke-width="0.8" />
<text x="22.20" y="606.60" font-size="8.6" text-anchor="end" font-weight="normal" font-style="normal" fill="#141414" >0</text>
<line x1="22.20" y1="576.40" x2="24.00" y2="576.40" stroke="#141414" stroke-width="0.8" />
<text x="22.20" y="578.50" font-size="8.6" text-anchor="end" font-weight="normal" font-style="normal" fill="#141414" >2</text>
<line x1="22.20" y1="548.30" x2="24.00" y2="548.30" stroke="#141414" stroke-width="0.8" />
<text x="22.20" y="550.40" font-size="8.6" text-anchor="end" font-weight="normal" font-style="normal" fill="#141414" >4</text>
<line x1="22.20" y1="520.20" x2="24.00" y2="520.20" stroke="#141414" stroke-width="0.8" />
<text x="22.20" y="522.30" font-size="8.6" text-anchor="end" font-weight="normal" font-style="normal" fill="#141414" >6</text>
<line x1="22.20" y1="492.10" x2="24.00" y2="492.10" stroke="#141414" stroke-width="0.8" />
<text x="22.20" y="494.20" font-size="8.6" text-anchor="end" font-weight="normal" font-style="normal" fill="#141414" >8</text>
<line x1="48.60" y1="604.50" x2="48.60" y2="606.10" stroke="#141414" stroke-width="0.8" />
<text x="48.60" y="614.30" font-size="8.4" text-anchor="middle" font-weight="normal" font-style="normal" fill="#141414" >1</text>
<line x1="73.00" y1="604.50" x2="73.00" y2="606.10" stroke="#141414" stroke-width="0.8" />
<text x="73.00" y="614.30" font-size="8.4" text-anchor="middle" font-weight="normal" font-style="normal" fill="#141414" >2</text>
<line x1="97.50" y1="604.50" x2="97.50" y2="606.10" stroke="#141414" stroke-width="0.8" />
<text x="97.50" y="614.30" font-size="8.4" text-anchor="middle" font-weight="normal" font-style="normal" fill="#141414" >3</text>
<line x1="121.50" y1="604.50" x2="121.50" y2="606.10" stroke="#141414" stroke-width="0.8" />
<text x="121.50" y="614.30" font-size="8.4" text-anchor="middle" font-weight="normal" font-style="normal" fill="#141414" >4</text>
<line x1="146.00" y1="604.50" x2="146.00" y2="606.10" stroke="#141414" stroke-width="0.8" />
<text x="146.00" y="614.30" font-size="8.4" text-anchor="middle" font-weight="normal" font-style="normal" fill="#141414" >5</text>
<text x="27.30" y="622.30" font-size="8.2" text-anchor="start" font-weight="normal" font-style="normal" fill="#141414" >week #</text>
<text x="10.20" y="534.20" font-size="8.42" text-anchor="middle" font-weight="normal" font-style="normal" fill="#141414" transform="rotate(-90 10.20 534.20)" >fold expansion of total CFCs (x 1000)</text>
<path d="M48.60,600.20 C52.67,599.95 64.85,598.87 73.00,598.70 C81.15,598.53 85.33,598.27 97.50,599.20 C109.67,600.13 137.92,603.45 146.00,604.30" fill="none" stroke="#8c8c8c" stroke-width="1.2" stroke-dasharray="1.5 3"/>
<path d="M48.60,599.00 C52.67,598.75 64.85,597.67 73.00,597.50 C81.15,597.33 85.33,596.92 97.50,598.00 C109.67,599.08 137.92,603.00 146.00,604.00" fill="none" stroke="#141414" stroke-width="1.3" stroke-dasharray="1.5 3"/>
<circle cx="48.60" cy="599.00" r="1.4" fill="#fff" stroke="#8c8c8c" stroke-width="0.6"/>
<circle cx="73.00" cy="597.50" r="1.4" fill="#fff" stroke="#8c8c8c" stroke-width="0.6"/>
<circle cx="97.50" cy="598.00" r="1.4" fill="#fff" stroke="#8c8c8c" stroke-width="0.6"/>
<circle cx="146.00" cy="604.00" r="1.4" fill="#fff" stroke="#8c8c8c" stroke-width="0.6"/>
<path d="M48.6,597 C57,582 65,568 73,554 C82,538 90,512 97.5,508.5 C101.5,506.6 105,504.8 108.5,504.8 C120,504.8 134,508 146,509.5" fill="none" stroke="#8c8c8c" stroke-width="1.0"/>
<line x1="73.00" y1="544.00" x2="73.00" y2="561.00" stroke="#777" stroke-width="1.2" />
<line x1="97.50" y1="496.00" x2="97.50" y2="519.00" stroke="#777" stroke-width="1.1" />
<line x1="146.00" y1="496.00" x2="146.00" y2="521.00" stroke="#777" stroke-width="1.1" />
<polygon points="47.30,598.04 48.60,595.70 49.90,598.04" fill="#8c8c8c" stroke="#8c8c8c" stroke-width="0.4"/>
<polygon points="71.70,555.04 73.00,552.70 74.30,555.04" fill="#8c8c8c" stroke="#8c8c8c" stroke-width="0.4"/>
<polygon points="96.20,509.54 97.50,507.20 98.80,509.54" fill="#8c8c8c" stroke="#8c8c8c" stroke-width="0.4"/>
<polygon points="144.70,510.54 146.00,508.20 147.30,510.54" fill="#8c8c8c" stroke="#8c8c8c" stroke-width="0.4"/>
<path d="M48.6,589 C56,574 64,555 73,544 C78,539 82,537 86,537 C90,537 94,538 97.5,539.5 C113,547 130,562 146,573" fill="none" stroke="#141414" stroke-width="1.3"/>
<line x1="48.60" y1="585.00" x2="48.60" y2="593.00" stroke="#141414" stroke-width="1.4" />
<line x1="73.00" y1="525.50" x2="73.00" y2="550.00" stroke="#141414" stroke-width="1.3" />
<line x1="97.50" y1="529.50" x2="97.50" y2="550.00" stroke="#141414" stroke-width="1.3" />
<line x1="146.00" y1="560.00" x2="146.00" y2="586.00" stroke="#141414" stroke-width="1.3" />
<polygon points="47.00,589.00 48.60,587.40 50.20,589.00 48.60,590.60" fill="#141414" stroke="#141414" stroke-width="0.3"/>
<polygon points="71.40,544.00 73.00,542.40 74.60,544.00 73.00,545.60" fill="#141414" stroke="#141414" stroke-width="0.3"/>
<polygon points="95.90,539.50 97.50,537.90 99.10,539.50 97.50,541.10" fill="#141414" stroke="#141414" stroke-width="0.3"/>
<polygon points="144.40,573.00 146.00,571.40 147.60,573.00 146.00,574.60" fill="#141414" stroke="#141414" stroke-width="0.3"/>
<text x="144.47" y="538.09" font-size="13.5" font-weight="bold" fill="#000">*</text>
<text x="181.80" y="453.40" font-size="13.5" text-anchor="start" font-weight="bold" font-style="normal" fill="#000" >E</text>
<text x="199.00" y="454.50" font-size="8.2" text-anchor="start" font-weight="normal" font-style="normal" fill="#141414" >BFU-e</text>
<rect x="228.30" y="534.04" width="20.90" height="3.56" fill="#999" stroke="#141414" stroke-width="1.15"/>
<rect x="262.30" y="483.84" width="20.50" height="53.76" fill="#999" stroke="#141414" stroke-width="1.15"/>
<rect x="295.30" y="536.75" width="20.50" height="0.85" fill="#999" stroke="#141414" stroke-width="1.15"/>
<rect x="328.30" y="533.76" width="20.90" height="3.84" fill="#999" stroke="#141414" stroke-width="1.15"/>
<line x1="272.50" y1="470.50" x2="272.50" y2="496.00" stroke="#141414" stroke-width="1.4" />
<line x1="270.80" y1="470.50" x2="274.20" y2="470.50" stroke="#141414" stroke-width="1.1199999999999999" />
<line x1="270.80" y1="496.00" x2="274.20" y2="496.00" stroke="#141414" stroke-width="1.1199999999999999" />
<line x1="338.70" y1="531.00" x2="338.70" y2="535.80" stroke="#141414" stroke-width="1.6" />
<line x1="221.60" y1="465.50" x2="221.60" y2="538.20" stroke="#141414" stroke-width="1.35" />
<line x1="221.00" y1="537.60" x2="356.00" y2="537.60" stroke="#141414" stroke-width="1.35" />
<line x1="219.80" y1="537.60" x2="221.60" y2="537.60" stroke="#141414" stroke-width="0.8" />
<text x="219.00" y="540.20" font-size="8.7" text-anchor="end" font-weight="normal" font-style="normal" fill="#141414" >0</text>
<line x1="219.80" y1="523.36" x2="221.60" y2="523.36" stroke="#141414" stroke-width="0.8" />
<text x="219.00" y="525.96" font-size="8.7" text-anchor="end" font-weight="normal" font-style="normal" fill="#141414" >200</text>
<line x1="219.80" y1="509.12" x2="221.60" y2="509.12" stroke="#141414" stroke-width="0.8" />
<text x="219.00" y="511.72" font-size="8.7" text-anchor="end" font-weight="normal" font-style="normal" fill="#141414" >400</text>
<line x1="219.80" y1="494.88" x2="221.60" y2="494.88" stroke="#141414" stroke-width="0.8" />
<text x="219.00" y="497.48" font-size="8.7" text-anchor="end" font-weight="normal" font-style="normal" fill="#141414" >600</text>
<line x1="219.80" y1="480.64" x2="221.60" y2="480.64" stroke="#141414" stroke-width="0.8" />
<text x="219.00" y="483.24" font-size="8.7" text-anchor="end" font-weight="normal" font-style="normal" fill="#141414" >800</text>
<line x1="219.80" y1="466.40" x2="221.60" y2="466.40" stroke="#141414" stroke-width="0.8" />
<text x="219.00" y="469.00" font-size="8.7" text-anchor="end" font-weight="normal" font-style="normal" fill="#141414" >1000</text>
<text x="198.30" y="502.90" font-size="8.3" text-anchor="middle" font-weight="normal" font-style="normal" fill="#141414" transform="rotate(-90 198.30 502.90)" >absolute colony count</text>
<text x="237.90" y="547.10" font-size="7.3" text-anchor="middle" font-weight="normal" font-style="normal" fill="#141414" >unstim.</text>
<text x="271.00" y="547.10" font-size="7.3" text-anchor="middle" font-weight="normal" font-style="normal" fill="#141414" >4-OHT</text>
<text x="305.30" y="547.10" font-size="7.3" text-anchor="middle" font-weight="normal" font-style="normal" fill="#141414" >unstim.</text>
<text x="338.80" y="547.10" font-size="7.3" text-anchor="middle" font-weight="normal" font-style="normal" fill="#141414" >4-OHT</text>
<line x1="226.20" y1="548.30" x2="282.40" y2="548.30" stroke="#141414" stroke-width="0.8" />
<line x1="293.60" y1="548.30" x2="350.20" y2="548.30" stroke="#141414" stroke-width="0.8" />
<text x="253.40" y="556.10" font-size="7.3999999999999995" text-anchor="middle" font-weight="normal" font-style="normal" fill="#141414" >luc RNAi</text>
<text x="320.60" y="556.10" font-size="7.3999999999999995" text-anchor="middle" font-weight="normal" font-style="normal" fill="#141414" >GATA1 RNAi</text>
<polyline points="239.20,528.00 239.20,478.00 267.50,478.00 267.50,481.50" fill="none" stroke="#2a2a2a" stroke-width="0.9" />
<polyline points="237.00,528.00 237.00,463.00 304.60,463.00 304.60,535.00" fill="none" stroke="#2a2a2a" stroke-width="0.9" />
<polyline points="273.20,462.50 273.20,459.20 339.60,459.20 339.60,530.00" fill="none" stroke="#2a2a2a" stroke-width="0.9" />
<polyline points="307.00,535.00 307.00,526.20 337.00,526.20 337.00,531.00" fill="none" stroke="#2a2a2a" stroke-width="0.9" />
<text x="251.02" y="479.71" font-size="11" font-weight="bold" fill="#000">*</text>
<text x="255.32" y="464.71" font-size="11" font-weight="bold" fill="#000">*</text>
<text x="305.12" y="461.21" font-size="11" font-weight="bold" fill="#000">*</text>
<text x="310.00" y="523.00" font-size="7.9" fill="#141414" word-spacing="-1.1"><tspan font-style="italic">P</tspan> = .13</text>
<text x="197.40" y="574.10" font-size="8.3" text-anchor="start" font-weight="normal" font-style="normal" fill="#141414" >CFU-GM</text>
<rect x="228.30" y="643.90" width="20.90" height="9.70" fill="#fff" stroke="#141414" stroke-width="1.15"/>
<rect x="262.30" y="605.53" width="20.50" height="48.07" fill="#fff" stroke="#141414" stroke-width="1.15"/>
<rect x="295.10" y="643.68" width="20.70" height="9.92" fill="#fff" stroke="#141414" stroke-width="1.15"/>
<rect x="328.30" y="632.87" width="20.70" height="20.73" fill="#fff" stroke="#141414" stroke-width="1.15"/>
<line x1="272.50" y1="593.30" x2="272.50" y2="617.00" stroke="#141414" stroke-width="1.3" />
<line x1="270.90" y1="593.30" x2="274.10" y2="593.30" stroke="#141414" stroke-width="1.04" />
<line x1="270.90" y1="617.00" x2="274.10" y2="617.00" stroke="#141414" stroke-width="1.04" />
<line x1="338.70" y1="628.00" x2="338.70" y2="638.00" stroke="#141414" stroke-width="1.3" />
<line x1="337.20" y1="628.00" x2="340.20" y2="628.00" stroke="#141414" stroke-width="1.04" />
<line x1="337.20" y1="638.00" x2="340.20" y2="638.00" stroke="#141414" stroke-width="1.04" />
<ellipse cx="305.30" cy="643.70" rx="1.4" ry="1.2" fill="#141414"/>
<line x1="221.60" y1="582.50" x2="221.60" y2="654.20" stroke="#141414" stroke-width="1.35" />
<line x1="221.00" y1="653.60" x2="356.00" y2="653.60" stroke="#141414" stroke-width="1.35" />
<line x1="219.80" y1="653.60" x2="221.60" y2="653.60" stroke="#141414" stroke-width="0.8" />
<text x="219.00" y="656.20" font-size="8.7" text-anchor="end" font-weight="normal" font-style="normal" fill="#141414" >0</text>
<line x1="219.80" y1="635.96" x2="221.60" y2="635.96" stroke="#141414" stroke-width="0.8" />
<text x="219.00" y="638.56" font-size="8.7" text-anchor="end" font-weight="normal" font-style="normal" fill="#141414" >400</text>
<line x1="219.80" y1="618.32" x2="221.60" y2="618.32" stroke="#141414" stroke-width="0.8" />
<text x="219.00" y="620.92" font-size="8.7" text-anchor="end" font-weight="normal" font-style="normal" fill="#141414" >800</text>
<line x1="219.80" y1="600.68" x2="221.60" y2="600.68" stroke="#141414" stroke-width="0.8" />
<text x="219.00" y="603.28" font-size="8.7" text-anchor="end" font-weight="normal" font-style="normal" fill="#141414" >1200</text>
<line x1="219.80" y1="583.04" x2="221.60" y2="583.04" stroke="#141414" stroke-width="0.8" />
<text x="219.00" y="585.64" font-size="8.7" text-anchor="end" font-weight="normal" font-style="normal" fill="#141414" >1600</text>
<text x="198.30" y="619.00" font-size="8.3" text-anchor="middle" font-weight="normal" font-style="normal" fill="#141414" transform="rotate(-90 198.30 619.00)" >absolute colony count</text>
<text x="237.90" y="662.60" font-size="7.3" text-anchor="middle" font-weight="normal" font-style="normal" fill="#141414" >unstim.</text>
<text x="271.00" y="662.60" font-size="7.3" text-anchor="middle" font-weight="normal" font-style="normal" fill="#141414" >4-OHT</text>
<text x="305.30" y="662.60" font-size="7.3" text-anchor="middle" font-weight="normal" font-style="normal" fill="#141414" >unstim.</text>
<text x="338.80" y="662.60" font-size="7.3" text-anchor="middle" font-weight="normal" font-style="normal" fill="#141414" >4-OHT</text>
<line x1="226.20" y1="664.30" x2="282.40" y2="664.30" stroke="#141414" stroke-width="0.8" />
<line x1="293.60" y1="664.30" x2="350.20" y2="664.30" stroke="#141414" stroke-width="0.8" />
<text x="253.40" y="671.10" font-size="7.3999999999999995" text-anchor="middle" font-weight="normal" font-style="normal" fill="#141414" >luc RNAi</text>
<text x="320.60" y="671.10" font-size="7.3999999999999995" text-anchor="middle" font-weight="normal" font-style="normal" fill="#141414" >GATA1 RNAi</text>
<polyline points="235.00,636.00 235.00,591.20 302.50,591.20 302.50,635.00" fill="none" stroke="#2a2a2a" stroke-width="0.9" />
<polyline points="238.20,637.00 238.20,601.00 267.50,601.00 267.50,604.00" fill="none" stroke="#2a2a2a" stroke-width="0.9" />
<polyline points="271.20,591.00 271.20,587.60 339.50,587.60 339.50,624.50" fill="none" stroke="#2a2a2a" stroke-width="0.9" />
<polyline points="307.00,635.00 307.00,621.00 336.00,621.00 336.00,624.50" fill="none" stroke="#2a2a2a" stroke-width="0.9" />
<text x="242.00" y="587.30" font-size="7.9" fill="#141414" word-spacing="-1.1"><tspan font-style="italic">P</tspan> = .66</text>
<text x="301.50" y="585.00" font-size="7.9" fill="#141414" word-spacing="-1.1"><tspan font-style="italic">P</tspan> = .09</text>
<text x="249.62" y="603.21" font-size="11" font-weight="bold" fill="#000">*</text>
<text x="319.12" y="623.51" font-size="11" font-weight="bold" fill="#000">*</text>
<text x="364.50" y="454.00" font-size="14" text-anchor="start" font-weight="bold" font-style="normal" fill="#000" >F</text>
<rect x="427.70" y="505.22" width="20.50" height="68.17" fill="#fff" stroke="#141414" stroke-width="1.15"/>
<rect x="491.00" y="553.10" width="21.00" height="20.30" fill="#fff" stroke="#141414" stroke-width="1.15"/>
<line x1="437.80" y1="486.40" x2="437.80" y2="532.00" stroke="#141414" stroke-width="1.0" />
<line x1="436.50" y1="486.40" x2="439.10" y2="486.40" stroke="#141414" stroke-width="0.8" />
<line x1="436.50" y1="532.00" x2="439.10" y2="532.00" stroke="#141414" stroke-width="0.8" />
<line x1="501.50" y1="548.00" x2="501.50" y2="560.00" stroke="#141414" stroke-width="1.0" />
<line x1="500.20" y1="548.00" x2="502.80" y2="548.00" stroke="#141414" stroke-width="0.8" />
<line x1="500.20" y1="560.00" x2="502.80" y2="560.00" stroke="#141414" stroke-width="0.8" />
<line x1="389.80" y1="467.50" x2="389.80" y2="574.00" stroke="#141414" stroke-width="1.35" />
<line x1="389.20" y1="573.40" x2="520.00" y2="573.40" stroke="#141414" stroke-width="1.35" />
<line x1="388.00" y1="573.40" x2="389.80" y2="573.40" stroke="#141414" stroke-width="0.8" />
<text x="387.30" y="576.00" font-size="8.6" text-anchor="end" font-weight="normal" font-style="normal" fill="#141414" >0</text>
<line x1="388.00" y1="543.10" x2="389.80" y2="543.10" stroke="#141414" stroke-width="0.8" />
<text x="387.30" y="545.70" font-size="8.6" text-anchor="end" font-weight="normal" font-style="normal" fill="#141414" >10</text>
<line x1="388.00" y1="512.80" x2="389.80" y2="512.80" stroke="#141414" stroke-width="0.8" />
<text x="387.30" y="515.40" font-size="8.6" text-anchor="end" font-weight="normal" font-style="normal" fill="#141414" >20</text>
<line x1="388.00" y1="482.50" x2="389.80" y2="482.50" stroke="#141414" stroke-width="0.8" />
<text x="387.30" y="485.10" font-size="8.6" text-anchor="end" font-weight="normal" font-style="normal" fill="#141414" >30</text>
<text x="372.80" y="524.90" font-size="8.46" text-anchor="middle" font-weight="normal" font-style="normal" fill="#141414" transform="rotate(-90 372.80 524.90)" >early cobblestone frequency (%)</text>
<text x="405.90" y="583.80" font-size="7.3" text-anchor="middle" font-weight="normal" font-style="normal" fill="#141414" >unstim.</text>
<text x="438.80" y="583.80" font-size="7.3" text-anchor="middle" font-weight="normal" font-style="normal" fill="#141414" >4-OHT</text>
<text x="473.80" y="583.80" font-size="7.3" text-anchor="middle" font-weight="normal" font-style="normal" fill="#141414" >unstim.</text>
<text x="506.30" y="583.80" font-size="7.3" text-anchor="middle" font-weight="normal" font-style="normal" fill="#141414" >4-OHT</text>
<line x1="394.20" y1="585.70" x2="450.20" y2="585.70" stroke="#141414" stroke-width="0.8" />
<line x1="462.10" y1="585.70" x2="517.70" y2="585.70" stroke="#141414" stroke-width="0.8" />
<text x="421.70" y="592.20" font-size="7.3999999999999995" text-anchor="middle" font-weight="normal" font-style="normal" fill="#141414" >luc RNAi</text>
<text x="488.50" y="592.20" font-size="7.3999999999999995" text-anchor="middle" font-weight="normal" font-style="normal" fill="#141414" >GATA1 RNAi</text>
</svg>
</body></html>
